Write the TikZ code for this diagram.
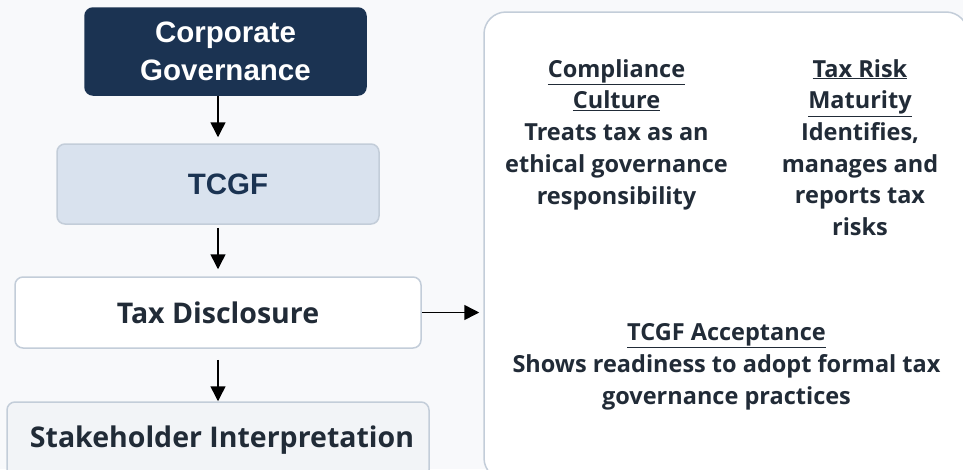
\documentclass[tikz,border=0pt]{standalone}
\usepackage{fontspec}
\setmainfont{Open Sans}
\newfontfamily\headfont{Liberation Sans}
\usetikzlibrary{arrows.meta}
\definecolor{navy}{HTML}{1B3352}
\definecolor{pagebg}{HTML}{F8F9FB}
\definecolor{paleblue}{HTML}{D9E2EE}
\definecolor{edgegray}{HTML}{C3CDD9}
\definecolor{inkdark}{HTML}{212B37}
\definecolor{palegray}{HTML}{F2F4F7}
\tikzset{
  box/.style={draw=edgegray, line width=1.5pt, rounded corners=8pt, align=center, inner sep=0pt},
  flowtext/.style={font=\bfseries\fontsize{28.5}{34}\selectfont, text=inkdark},
  notetext/.style={font=\bfseries\fontsize{23.5}{31.7}\selectfont, text=inkdark, align=center, anchor=base, inner sep=0pt},
  arr/.style={-{Triangle[width=15pt,length=15pt]}, line width=1.5pt, black},
}
\begin{document}
\begin{tikzpicture}[x=1pt,y=-1pt]
    \useasboundingbox[fill=pagebg] (0,0) rectangle (963,469);
    % left column
    \node[box, draw=navy, fill=navy, text=white, minimum width=281pt, minimum height=87pt,
          font=\headfont\bfseries\fontsize{29.5}{38}\selectfont] (cg) at (225.5,51.5) {Corporate\\Governance};
    \node[box, fill=paleblue, text=navy, minimum width=322pt, minimum height=80pt,
          font=\headfont\bfseries\fontsize{29.5}{36}\selectfont] (tcgf) at (218,184) {\raisebox{-4pt}{\hspace{20pt}TCGF}};
    \node[box, flowtext, fill=white, minimum width=406pt, minimum height=71pt] (td) at (218,312.5) {Tax Disclosure};
    \node[box, flowtext, fill=palegray, minimum width=422pt, minimum height=76pt] (si) at (218,440) {\hspace{8pt}Stakeholder Interpretation};
    % right panel (base anchor = last line)
    \node[box, fill=white, rounded corners=22pt, minimum width=484pt, minimum height=468pt] (effects) at (726,246) {};
    \node[notetext] (culture) at (616.5,204) {\underline{Compliance}\\\underline{Culture}\\Treats tax as an\\ethical governance\\responsibility};
    \node[notetext] (risk) at (860,235.5) {\underline{Tax Risk}\\\underline{Maturity}\\Identifies,\\manages and\\reports tax\\risks};
    \node[notetext] (accept) at (726.5,404) {\underline{TCGF Acceptance}\\Shows readiness to adopt formal tax\\governance practices};
    % connectors
    \draw[arr, shorten >=6pt] (cg.south -| td) -- (tcgf.north -| td);
    \draw[arr, shorten <=3pt, shorten >=7pt] (tcgf.south -| td) -- (td.north);
    \draw[arr, shorten <=11pt] (td.south) -- (si.north);
    \draw[arr, shorten >=4pt] (td.east) -- (td.east -| effects.west);
\end{tikzpicture}
\end{document}
